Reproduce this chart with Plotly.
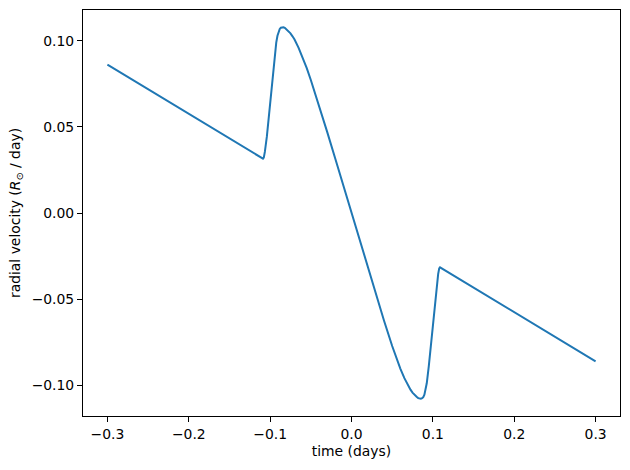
import plotly.graph_objects as go

# time (days) and radial velocity (R_sun / day)
time_days = [-0.3000, -0.1088, -0.1078, -0.1065, -0.1040, -0.1008, -0.0978, -0.0950,
             -0.0925, -0.0910, -0.0896, -0.0882, -0.0868, -0.0853, -0.0837, -0.0820,
             -0.0800, -0.0775, -0.0750, -0.0725, -0.0700, -0.0650,
             -0.0600, -0.0550, -0.0500, -0.0400, -0.0300, -0.0200, -0.0100, 0.0000,
             0.0100, 0.0200, 0.0300, 0.0400, 0.0500, 0.0550, 0.0600, 0.0650, 0.0700,
             0.0725, 0.0750, 0.0775, 0.0800, 0.0820, 0.0837, 0.0853, 0.0868, 0.0882,
             0.0896, 0.0910, 0.0925, 0.0950, 0.0978, 0.1008,
             0.1040, 0.1065, 0.1078, 0.1088, 0.3000]
radial_velocity = [0.0862, 0.0316, 0.0322, 0.0355, 0.0445, 0.0600, 0.0755, 0.0890,
                   0.0990, 0.1030, 0.1056, 0.1070, 0.1077, 0.1080, 0.1080, 0.1076,
                   0.1068, 0.1058, 0.1044, 0.1027, 0.1008, 0.0960,
                   0.0904, 0.0842, 0.0773, 0.0626, 0.0473, 0.0317, 0.0159, 0.0000,
                   -0.0159, -0.0317, -0.0473, -0.0626, -0.0773, -0.0842, -0.0904, -0.0960, -0.1008,
                   -0.1027, -0.1044, -0.1058, -0.1068, -0.1076, -0.1080, -0.1080, -0.1077, -0.1070,
                   -0.1056, -0.1030, -0.0990, -0.0890, -0.0755, -0.0600,
                   -0.0445, -0.0355, -0.0322, -0.0316, -0.0862]

x_tickvals = [-0.3, -0.2, -0.1, 0.0, 0.1, 0.2, 0.3]
x_ticktext = ["\u22120.3", "\u22120.2", "\u22120.1", "0.0", "0.1", "0.2", "0.3"]
y_tickvals = [0.10, 0.05, 0.00, -0.05, -0.10]
y_ticktext = ["0.10", "0.05", "0.00", "\u22120.05", "\u22120.10"]

fig = go.Figure()
fig.add_trace(go.Scatter(
    x=time_days, y=radial_velocity, mode="lines",
    line=dict(color="#1f77b4", width=2),
    showlegend=False,
))

axis_common = dict(
    showgrid=False, zeroline=False,
    showline=True, linecolor="black", linewidth=1, mirror=True,
    ticks="outside", ticklen=5, tickwidth=1, tickcolor="black",
    tickfont=dict(family="DejaVu Sans", size=13.9, color="black"),
    title_font=dict(family="DejaVu Sans", size=13.9, color="black"),
)

fig.update_layout(
    width=630, height=470,
    margin=dict(l=83, r=10, t=10, b=54),
    paper_bgcolor="white", plot_bgcolor="white",
    font=dict(family="DejaVu Sans", size=13.9, color="black"),
    xaxis=dict(range=[-0.33, 0.33], tickvals=x_tickvals, ticktext=x_ticktext,
               title=dict(text="time (days)", standoff=5), **axis_common),
    yaxis=dict(range=[-0.118, 0.118], tickvals=y_tickvals, ticktext=y_ticktext,
               title=dict(text="radial velocity (<i>R</i><sub>\u2299</sub> / day)", standoff=7),
               **axis_common),
)

fig.write_html("out.html")
